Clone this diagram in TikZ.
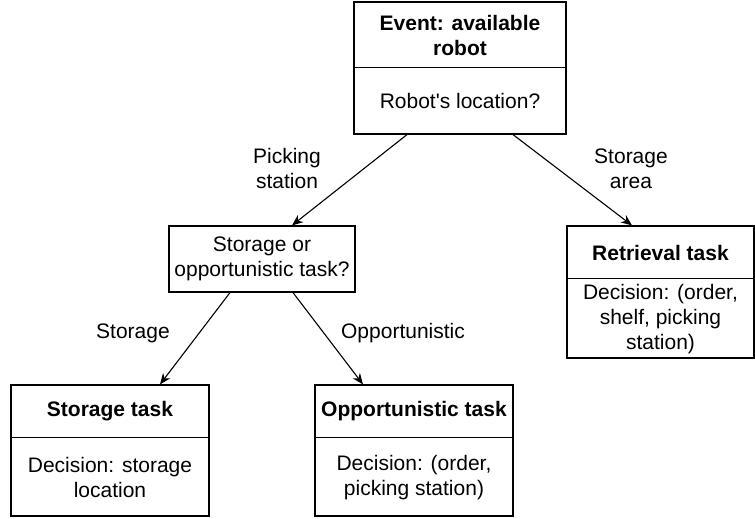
\documentclass[tikz,border=0pt]{standalone}
\usepackage{fontspec}
\setmainfont{Liberation Sans}
\usetikzlibrary{arrows.meta,calc}
\begin{document}
\begin{tikzpicture}[x=1pt,y=-1pt,
  box/.style={draw, line width=1.2pt, rectangle, inner sep=0pt},
  txt/.style={align=center, inner sep=0pt, font=\fontsize{21}{25}\selectfont},
  ttl/.style={txt, font=\fontsize{21}{25}\selectfont\bfseries},
  arr/.style={line width=1.1pt, -{Stealth[length=11pt,width=9pt]}}]
\useasboundingbox (0,0) rectangle (755,519);
% boxes
\node[box, minimum width=212pt, minimum height=132pt] (top) at (460,68) {};
\node[box, minimum width=186pt, minimum height=66pt] (mid) at (262,259) {};
\node[box, minimum width=187pt, minimum height=132pt] (ret) at (660.5,292) {};
\node[box, minimum width=198pt, minimum height=131pt] (sto) at (110,450.5) {};
\node[box, minimum width=198pt, minimum height=131pt] (opp) at (414,450.5) {};
% dividers
\draw[line width=1.2pt] ($(top.north west)+(0,66)$) -- ($(top.north east)+(0,66)$);
\draw[line width=1.2pt] ($(ret.north west)+(0,53)$) -- ($(ret.north east)+(0,53)$);
\draw[line width=1.2pt] ($(sto.north west)+(0,53)$) -- ($(sto.north east)+(0,53)$);
\draw[line width=1.2pt] ($(opp.north west)+(0,53)$) -- ($(opp.north east)+(0,53)$);
% texts
\node[ttl] (toptitle) at (460,35) {Event: available\\robot};
\node[txt] (topq) at (460,101) {Robot\textquotesingle s location?};
\node[txt] (midq) at (262,259) {Storage or\\opportunistic task?};
\node[ttl] (rettitle) at (660.5,253) {Retrieval task};
\node[txt] (retdec) at (660.5,319) {Decision: (order,\\shelf, picking\\station)};
\node[ttl] (stotitle) at (110,411.5) {Storage task};
\node[txt] (stodec) at (110,477.5) {Decision: storage\\location};
\node[ttl] (opptitle) at (414,411.5) {Opportunistic task};
\node[txt] (oppdec) at (414,477.5) {Decision: (order,\\picking station)};
% arrows
\draw[arr] ($(top.south)+(-53,0)$) -- ($(mid.north)+(30,0)$);
\draw[arr] ($(top.south)+(53,0)$) -- ($(ret.north)+(-28.5,0)$);
\draw[arr] ($(mid.south)+(-32,0)$) -- ($(sto.north)+(50,0)$);
\draw[arr] ($(mid.south)+(31,0)$) -- ($(opp.north)+(-51,0)$);
% labels
\node[txt] (lpick) at (287,168) {Picking\\station};
\node[txt] (lstarea) at (631,169) {Storage\\area};
\node[txt] (lsto) at (133,333) {Storage};
\node[txt] (lopp) at (403,333) {Opportunistic};
\end{tikzpicture}
\end{document}
